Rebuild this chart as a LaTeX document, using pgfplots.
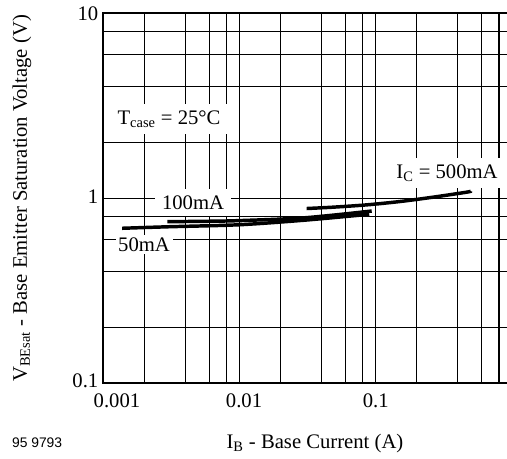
\documentclass[border=0pt]{standalone}
\usepackage{pgfplots}
\pgfplotsset{compat=1.18}
\usepackage{fontspec}
\setmainfont{Liberation Serif}
\newfontfamily\codefont{Liberation Sans}

\begin{document}
\begin{tikzpicture}
\begin{axis}[
    scale only axis,
    width=306.9pt, height=277.5pt,
    xmode=log, ymode=log,
    xmin=0.001, xmax=1, ymin=0.1, ymax=10,
    clip=false,
    xtick={0.001,0.01,0.1},
    xticklabels={\hspace*{21pt}0.001,\hspace*{7pt}0.01,0.1},
    ytick={0.1,1,10},
    yticklabels={\raisebox{3.5pt}{0.1},\raisebox{2pt}{1},10},
    minor xtick={0.002,0.004,0.006,0.008,0.02,0.04,0.06,0.08,0.2,0.4,0.6,0.8},
    minor ytick={0.2,0.4,0.6,0.8,2,4,6,8},
    grid=both,
    major grid style={black, line width=0.8pt},
    minor grid style={black, line width=0.8pt},
    major tick length=0pt, minor tick length=0pt,
    axis line style={line width=1.6pt},
    font=\fontsize{15.5}{18}\selectfont,
    tick label style={font=\fontsize{15.5}{18}\selectfont},
    xticklabel style={yshift=-4pt},
    /pgf/number format/assume math mode=true,
    xlabel={I\textsubscript{B} - Base Current (A)},
    ylabel={V\textsubscript{BEsat} - Base Emitter Saturation Voltage (V)},
    xlabel style={at={(axis description cs:0.518,-0.162)}, anchor=center},
    ylabel style={at={(axis description cs:-0.198,0.5)}, anchor=center},
]
% I_C = 50 mA
\addplot [black, line width=2.6pt, smooth] coordinates {
    (0.00138,0.689) (0.003,0.702) (0.01,0.720) (0.03,0.762) (0.0895,0.820)
};
% I_C = 100 mA
\addplot [black, line width=2.6pt, smooth] coordinates {
    (0.00296,0.748) (0.006,0.752) (0.01,0.758) (0.03,0.785) (0.0933,0.854)
};
% I_C = 500 mA
\addplot [black, line width=2.6pt, smooth] coordinates {
    (0.0311,0.881) (0.0488,0.896) (0.0858,0.922) (0.150,0.961) (0.264,1.015) (0.464,1.080) (0.497,1.094)
};
\node [fill=white, inner sep=5pt] at (axis cs:0.00305,2.67) {T\textsubscript{case} = 25°C};
\node [fill=white, inner sep=5pt] at (axis cs:0.333,1.365) {I\textsubscript{C} = 500mA};
\node [fill=white, inner sep=5pt] at (axis cs:0.00457,0.951) {100mA};
\node [fill=white, inner sep=2pt] at (axis cs:0.0020,0.561) {50mA};
\node [font=\codefont\fontsize{10.4}{12}\selectfont, anchor=center]
    at (axis description cs:-0.161,-0.161) {95 9793};
\end{axis}
\pgfresetboundingbox
\path [use as bounding box] (-77.25pt,-56pt) rectangle (303pt,287.5pt);
\end{tikzpicture}
\end{document}
